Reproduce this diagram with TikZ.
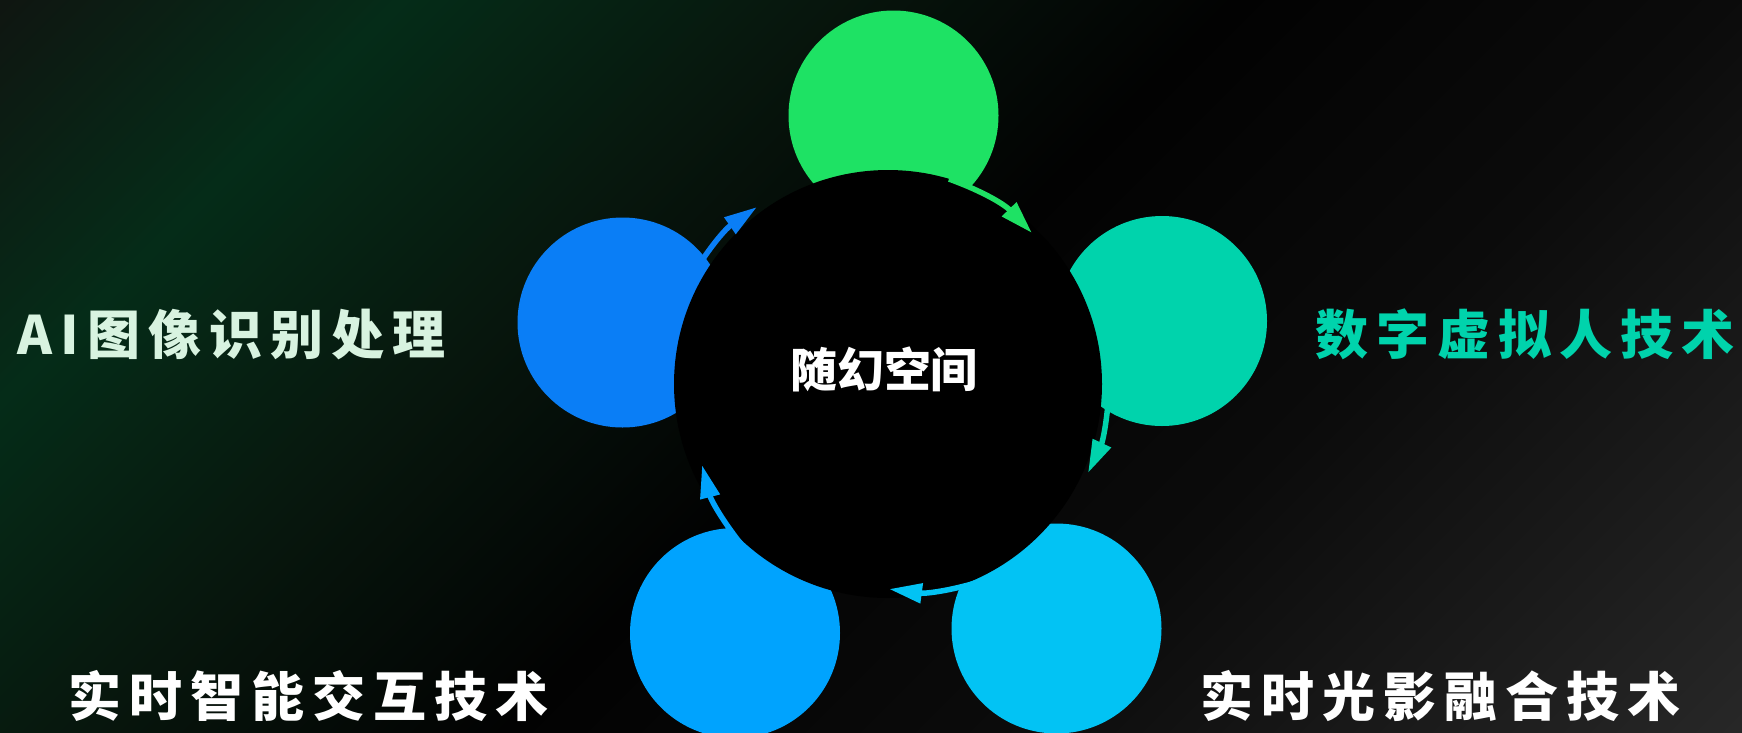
\documentclass[tikz,border=0pt]{standalone}
\usepackage{fontspec}
\newfontfamily\cjk{Noto Sans CJK SC}
\usetikzlibrary{arrows.meta}
\definecolor{bgA}{HTML}{0F1611}
\definecolor{bgB}{HTML}{052C18}
\definecolor{bgC}{HTML}{07160D}
\definecolor{bgD}{HTML}{020202}
\definecolor{bgE}{HTML}{0B0B0B}
\definecolor{bgF}{HTML}{272727}
\definecolor{cgreen}{HTML}{1EE264}
\definecolor{cteal}{HTML}{00D3AC}
\definecolor{ccyan}{HTML}{02C3F4}
\definecolor{cmid}{HTML}{00A3FE}
\definecolor{cblue}{HTML}{0A7EF6}
\definecolor{cmint}{HTML}{D8F3E0}
\pgfdeclarehorizontalshading{bgshade}{100bp}{color(0bp)=(bgA); color(25bp)=(bgA); color(33bp)=(bgB); color(41.5bp)=(bgC); color(50bp)=(bgD); color(60bp)=(bgE); color(75bp)=(bgF); color(100bp)=(bgF)}
\newcommand\tk{\kern0.8mm}
\tikzset{
  bub/.style={circle, inner sep=0pt, minimum size=21mm},
  arr/.style={line width=0.55mm, -{Triangle[length=3.3mm,width=1.9mm]}},
  lbl/.style={inner sep=0pt, font=\cjk\bfseries\fontsize{15.08pt}{18pt}\selectfont},
}
\begin{document}
\begin{tikzpicture}[x=0.1mm,y=-0.1mm]
\useasboundingbox (0,0) rectangle (1742,732);
\begin{scope}
\clip (0,0) rectangle (1742,732);
\shade[shading=bgshade, shading angle=-45] (-4,-509) rectangle (1746,1241);
% colored circles
\node[bub, fill=cgreen] (top) at (893.5,115.5) {};
\node[bub, fill=cteal] (right) at (1162,321) {};
\node[bub, fill=ccyan] (bright) at (1056.5,628.5) {};
\node[bub, fill=cmid] (bleft) at (735,633) {};
\node[bub, fill=cblue] (left) at (622.5,322.5) {};
% hub
\node[circle, fill=black, inner sep=0pt, minimum size=42.8mm] (hub) at (888,384) {};
\node[inner sep=0pt, text=white, font=\cjk\bfseries\fontsize{13.37pt}{16pt}\selectfont] (title) at (884,369) {随幻空间};
% arrows
\coordinate (a1s) at (949,179);  \coordinate (a1t) at (1032,233);
\coordinate (a2s) at (1109,389); \coordinate (a2t) at (1088,473);
\coordinate (a3s) at (979,582);  \coordinate (a3t) at (889,589);
\coordinate (a4s) at (741,544);  \coordinate (a4t) at (702,465);
\coordinate (a5s) at (692,276);  \coordinate (a5t) at (757,207);
\draw[arr, cgreen] (a1s) to[bend left=13] (a1t);
\draw[arr, cteal] (a2s) to[bend left=11] (a2t);
\draw[arr, ccyan] (a3s) to[bend left=12] (a3t);
\draw[arr, cmid] (a4s) to[bend left=12] (a4t);
\draw[arr, cblue] (a5s) to[bend left=12] (a5t);
% labels
\node[lbl, text=cmint, anchor=west] (lab1) at (17,334) {A\tk I\tk 图\tk 像\tk 识\tk 别\tk 处\tk 理};
\node[lbl, text=cteal, anchor=east] (lab2) at (1735,334) {数\tk 字\tk 虚\tk 拟\tk 人\tk 技\tk 术};
\node[lbl, text=white, anchor=west] (lab3) at (68,696) {实\tk 时\tk 智\tk 能\tk 交\tk 互\tk 技\tk 术};
\node[lbl, text=white, anchor=west] (lab4) at (1200,696) {实\tk 时\tk 光\tk 影\tk 融\tk 合\tk 技\tk 术};
\end{scope}
\end{tikzpicture}
\end{document}
